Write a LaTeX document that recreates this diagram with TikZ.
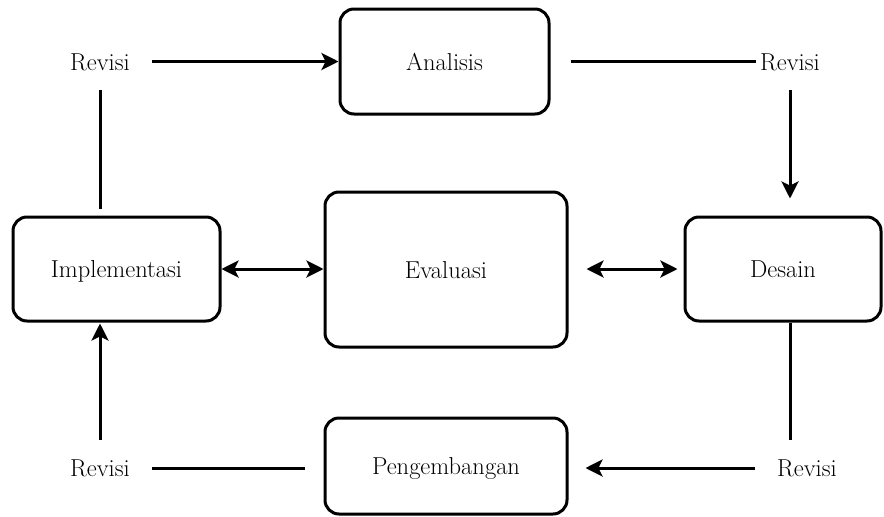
\documentclass[tikz,border=0pt]{standalone}
\usepackage{fontspec}
\setmainfont{Latin Modern Roman}
\usetikzlibrary{arrows.meta}
\begin{document}
\begin{tikzpicture}[x=1pt,y=-1pt,
  box/.style={draw, line width=3pt, rounded corners=14pt, inner sep=0pt, anchor=center, text height=17pt, text depth=0pt, font=\fontsize{24.5}{29}\selectfont},
  rev/.style={inner sep=0pt, anchor=center, font=\fontsize{24.5}{29}\selectfont},
  con/.style={line width=3pt},
  tip/.style={con, -{Stealth[length=17pt,width=17pt,inset=4pt]}},
  dtip/.style={con, {Stealth[length=17pt,width=17pt,inset=4pt]}-{Stealth[length=17pt,width=17pt,inset=4pt]}}]
\useasboundingbox (0,0) rectangle (884,517);
\node[box, minimum width=209pt, minimum height=105pt] (ana) at (444.5,61.5) {Analisis};
\node[box, minimum width=242pt, minimum height=155pt] (eva) at (446,269.5) {Evaluasi};
\node[box, minimum width=207pt, minimum height=104pt] (imp) at (116.5,269) {Implementasi};
\node[box, minimum width=196pt, minimum height=104pt] (des) at (783,269) {Desain};
\node[box, minimum width=242pt, minimum height=96pt] (pen) at (446,466) {Pengembangan};
\node[rev] (r1) at (100,62) {Revisi};
\node[rev] (r2) at (790,62) {Revisi};
\node[rev] (r3) at (807,468) {Revisi};
\node[rev] (r4) at (100,468) {Revisi};
% top-left revisi -> analisis
\draw[tip, shorten <=22pt] (r1.east |- ana.west) -- (ana.west);
% analisis -> top-right revisi
\draw[con, shorten <=20pt, shorten >=4pt] (ana.east) -- (ana.east -| r2.west);
% top-right revisi -> desain
\draw[tip, shorten <=19pt, shorten >=17pt] (r2.south) -- (r2.south |- des.north);
% desain -> bottom-right revisi
\draw[con, shorten >=19pt] (r2.south |- des.south) -- (r2.south |- r3.north);
% bottom-right revisi -> pengembangan
\draw[tip, shorten <=22pt, shorten >=17pt] (r3.west) -- (r3.west -| pen.east);
% pengembangan -> bottom-left revisi
\draw[con, shorten <=19pt, shorten >=22pt] (pen.west |- r4.east) -- (r4.east);
% bottom-left revisi -> implementasi
\draw[tip, shorten <=19pt, shorten >=1pt] (r4.north) -- (r4.north |- imp.south);
% implementasi -> top-left revisi
\draw[con, shorten <=7pt, shorten >=19pt] (r1.south |- imp.north) -- (r1.south);
% implementasi <-> evaluasi
\draw[dtip] (imp.east) -- (imp.east -| eva.west);
% evaluasi <-> desain
\draw[dtip, shorten <=18pt, shorten >=6pt] (eva.east |- des.west) -- (des.west);
\end{tikzpicture}
\end{document}
